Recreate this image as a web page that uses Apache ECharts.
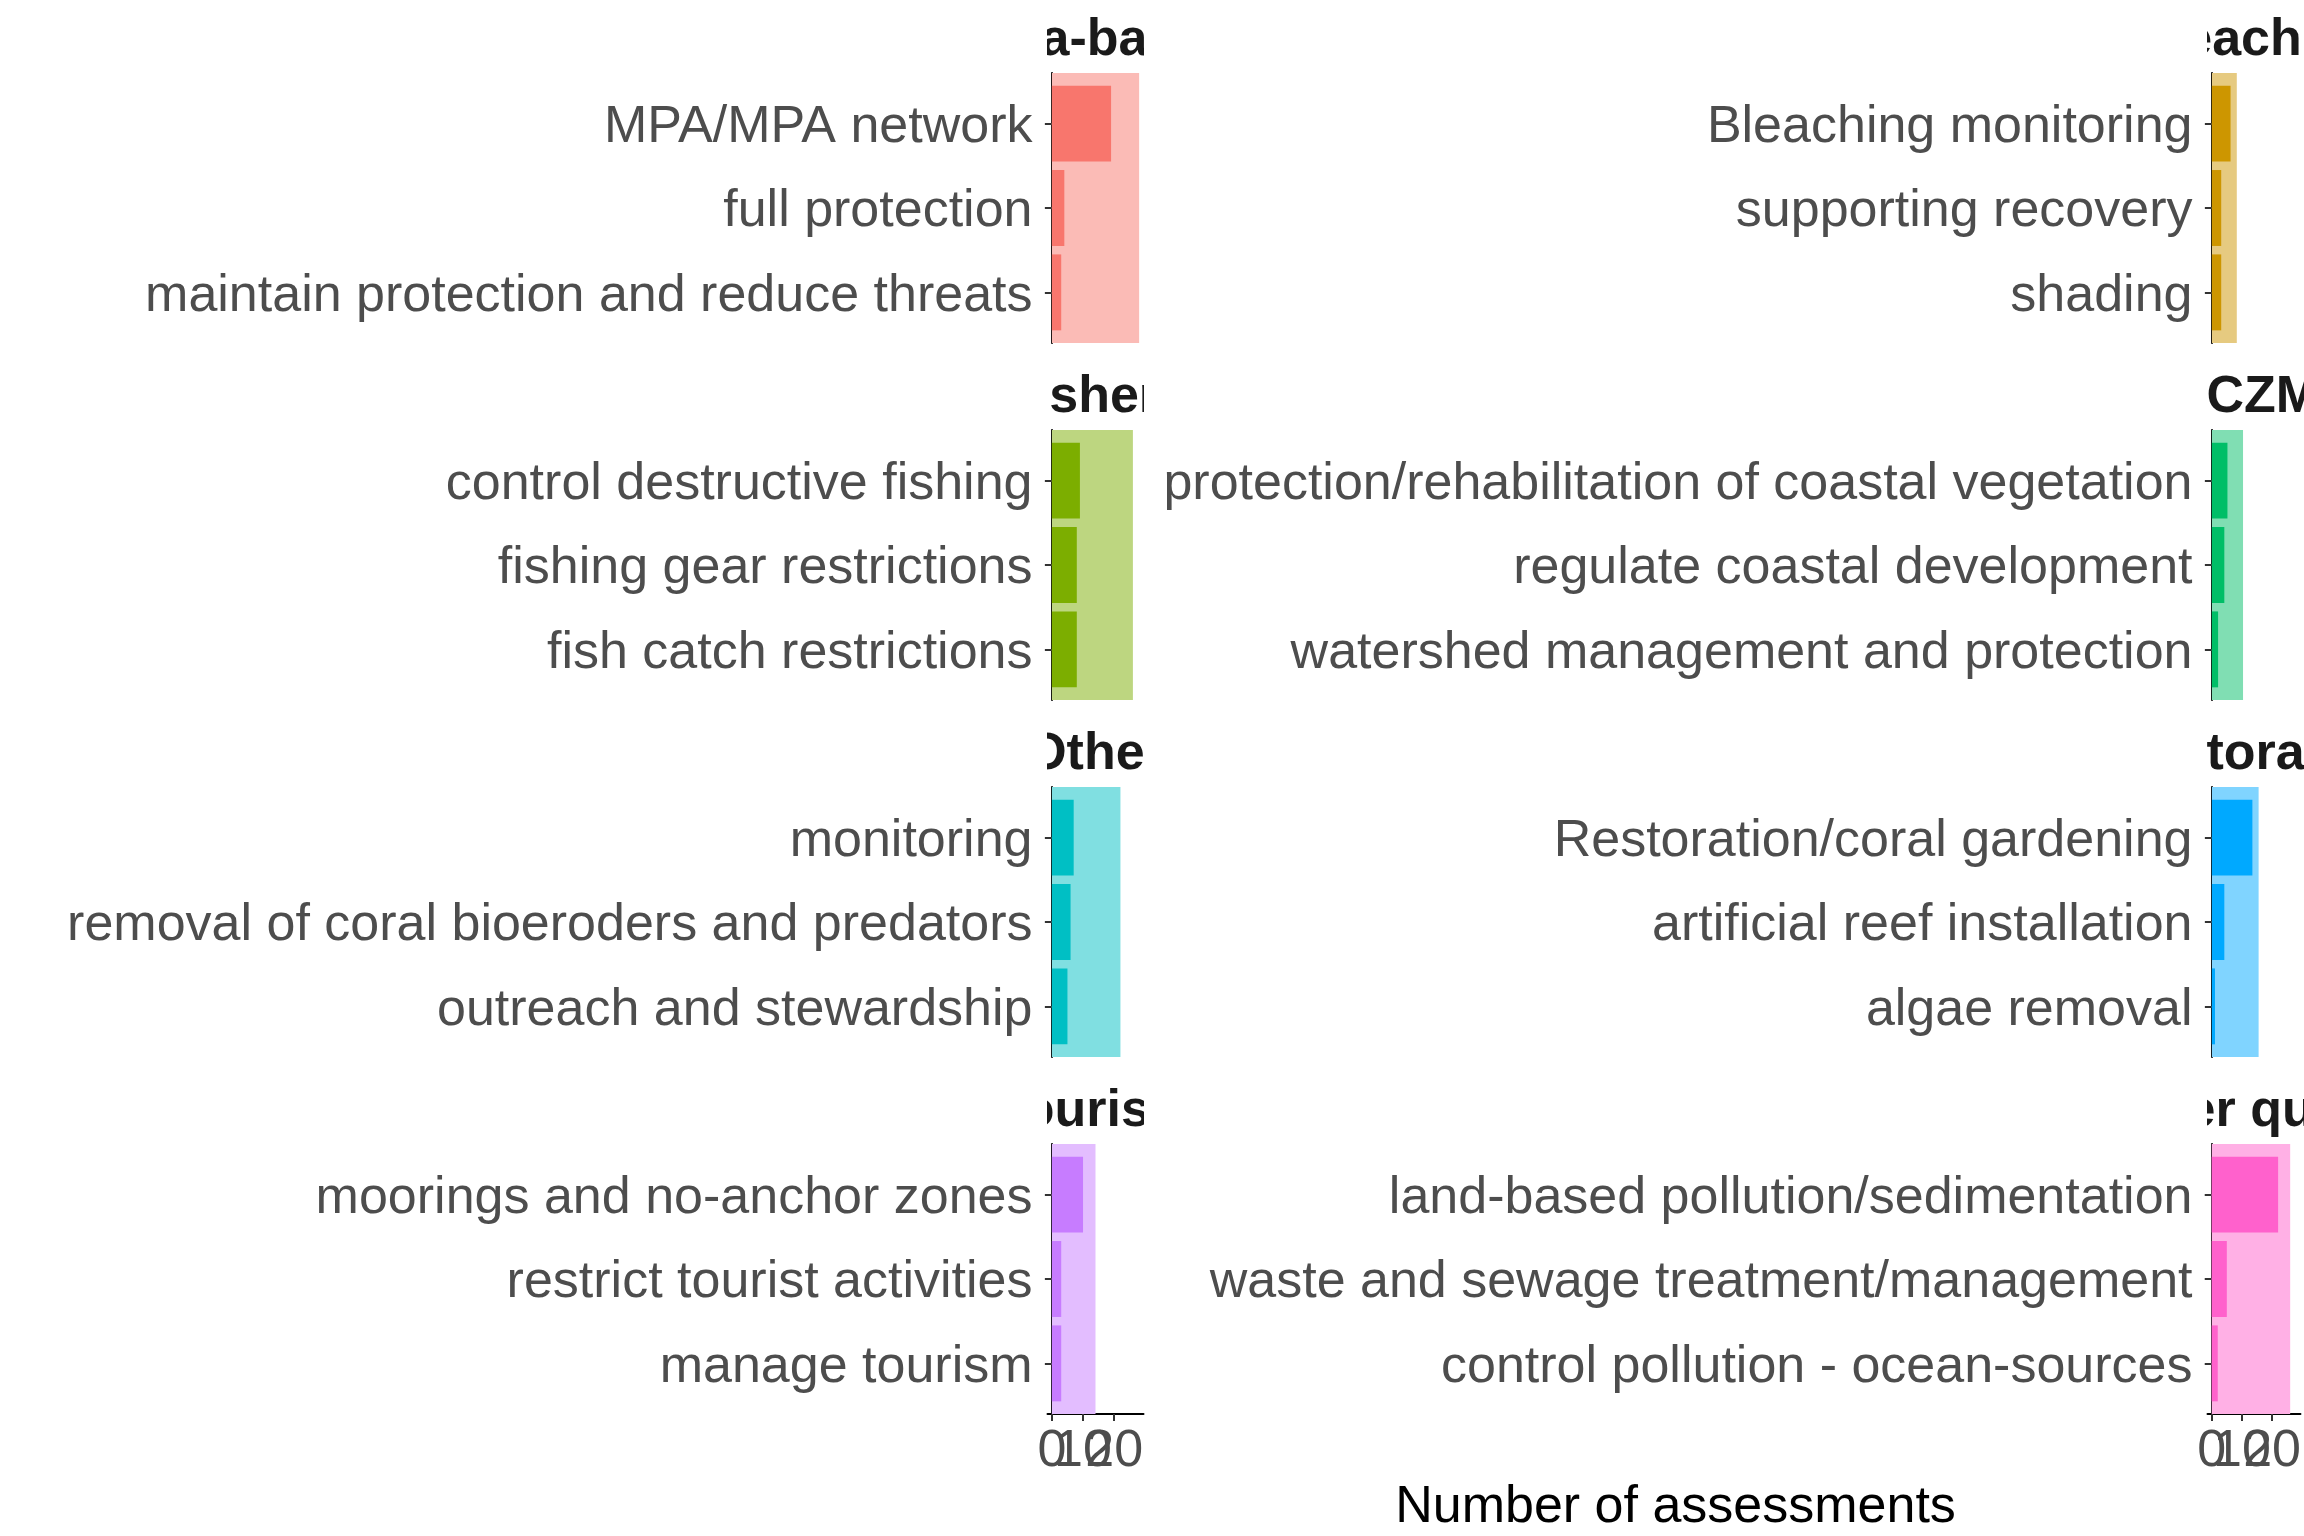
<!DOCTYPE html>
<html>
<head>
<meta charset="utf-8">
<script src="https://cdn.jsdelivr.net/npm/echarts@6/dist/echarts.min.js"></script>
<style>html,body{margin:0;padding:0;background:#fff}#c{width:2304px;height:1536px}</style>
</head>
<body>
<div id="c"></div>
<script>
// ---------------- data ----------------
const groups = ['Area-based', 'Bleaching', 'Fishery', 'ICZM', 'Other', 'Restoration', 'Tourism', 'Water quality'];
const groupTotals = [28, 8, 26, 10, 22, 15, 14, 26];

const actionsAreaBased = ['MPA/MPA network', 'full protection', 'maintain protection and reduce threats'];
const countsAreaBased = [19, 4, 3];
const actionsBleaching = ['Bleaching monitoring', 'supporting recovery', 'shading'];
const countsBleaching = [6, 3, 3];
const actionsFishery = ['control destructive fishing', 'fishing gear restrictions', 'fish catch restrictions'];
const countsFishery = [9, 8, 8];
const actionsICZM = ['protection/rehabilitation of coastal vegetation', 'regulate coastal development', 'watershed management and protection'];
const countsICZM = [5, 4, 2];
const actionsOther = ['monitoring', 'removal of coral bioeroders and predators', 'outreach and stewardship'];
const countsOther = [7, 6, 5];
const actionsRestoration = ['Restoration/coral gardening', 'artificial reef installation', 'algae removal'];
const countsRestoration = [13, 4, 1];
const actionsTourism = ['moorings and no-anchor zones', 'restrict tourist activities', 'manage tourism'];
const countsTourism = [10, 3, 3];
const actionsWaterQuality = ['land-based pollution/sedimentation', 'waste and sewage treatment/management', 'control pollution - ocean-sources'];
const countsWaterQuality = [22, 5, 2];

const xTicks = [0, 10, 20];
const xTitle = 'Number of assessments';

// ---------------- styling / layout ----------------
const colors = ['#F8766D', '#CD9600', '#7CAE00', '#00BE67', '#00BFC4', '#00A9FF', '#C77CFF', '#FF61CC'];
const lightColors = ['#FBBBB6', '#E6CA80', '#BDD680', '#80DEB3', '#80DFE1', '#80D4FF', '#E3BDFF', '#FFB0E5'];
const FONT = '"Liberation Sans", Arial, sans-serif';

const actionsAll = [actionsAreaBased, actionsBleaching, actionsFishery, actionsICZM, actionsOther, actionsRestoration, actionsTourism, actionsWaterQuality];
const countsAll = [countsAreaBased, countsBleaching, countsFishery, countsICZM, countsOther, countsRestoration, countsTourism, countsWaterQuality];

const colLeft = [1047.5, 2207.5];
const panelW = 96, panelH = 270, rowTop0 = 73, rowPitch = 357, stripH = 73;
const xMax = Math.max(...groupTotals);
const xMin = -0.05 * xMax, xMaxExp = 1.05 * xMax;

const grid = [], xAxis = [], yAxis = [], series = [];
const nP = groups.length;
const lastRow = Math.floor((nP - 1) / 2);
const xLabelStyle = { fontSize: 52, color: '#4D4D4D', fontFamily: FONT, margin: 12,
                      hideOverlap: false, showMinLabel: true, showMaxLabel: true };

for (let i = 0; i < nP; i++) {
  const col = i % 2, row = Math.floor(i / 2);
  const top = rowTop0 + row * rowPitch;
  const isBottom = row === lastRow;
  grid.push({ left: colLeft[col], top: top, width: panelW, height: panelH });
  const acts = actionsAll[i];
  xAxis.push({
    type: 'value', gridIndex: i, position: 'bottom', min: xMin, max: xMaxExp, show: isBottom,
    splitLine: { show: false },
    axisLine: { show: true, lineStyle: { color: '#000', width: 2 } },
    axisTick: { show: true, customValues: xTicks, length: 7, lineStyle: { color: '#333', width: 2 } },
    axisLabel: Object.assign({ customValues: [xTicks[0]] }, xLabelStyle)
  });
  yAxis.push({
    type: 'value', gridIndex: i, min: 0.4, max: 3.6, inverse: true,
    splitLine: { show: false },
    axisLine: { show: true, lineStyle: { color: '#000', width: 2 } },
    axisTick: { show: true, customValues: [1, 2, 3], length: 7, lineStyle: { color: '#333', width: 2 } },
    axisLabel: {
      customValues: [1, 2, 3], fontSize: 52, color: '#4D4D4D', fontFamily: FONT, margin: 15,
      verticalAlign: 'top', lineHeight: 8,
      hideOverlap: false, showMinLabel: true, showMaxLabel: true,
      formatter: v => acts[Math.round(v) - 1] || ''
    }
  });
  // background (group total)
  series.push({
    type: 'custom', xAxisIndex: i, yAxisIndex: i, silent: true, z: 1,
    data: [[groupTotals[i], 2]],
    encode: { x: 0, y: 1 },
    renderItem: (params, api) => {
      const cs = params.coordSys;
      const p0 = api.coord([0, 2]);
      const p1 = api.coord([api.value(0), 2]);
      return { type: 'rect', shape: { x: p0[0], y: cs.y, width: p1[0] - p0[0], height: cs.height },
               style: { fill: lightColors[i] } };
    }
  });
  // action bars
  series.push({
    type: 'custom', xAxisIndex: i, yAxisIndex: i, silent: true, z: 2,
    data: countsAll[i].map((v, k) => [v, k + 1]),
    encode: { x: 0, y: 1 },
    renderItem: (params, api) => {
      const v = api.value(0), y = api.value(1);
      const p = api.coord([0, y]);
      const q = api.coord([v, y]);
      const h = Math.abs(api.size([0, 0.9])[1]);
      return { type: 'rect', shape: { x: p[0], y: p[1] - h / 2, width: q[0] - p[0], height: h },
               style: { fill: colors[i] } };
    }
  });
}

// strip grids (clipped titles)
for (let i = 0; i < nP; i++) {
  const col = i % 2, row = Math.floor(i / 2);
  const top = rowTop0 + row * rowPitch;
  const gi = nP + i;
  grid.push({ left: colLeft[col], top: top - stripH, width: panelW, height: stripH });
  xAxis.push({ type: 'value', gridIndex: gi, min: 0, max: 1, show: false });
  yAxis.push({ type: 'value', gridIndex: gi, min: 0, max: 1, show: false });
  series.push({
    type: 'custom', xAxisIndex: gi, yAxisIndex: gi, silent: true, clip: true,
    data: [[0.5, 0.5]],
    encode: { x: 0, y: 1 },
    renderItem: (params, api) => {
      const cs = params.coordSys;
      return {
        type: 'text', x: cs.x + cs.width / 2, y: cs.y + cs.height - 32,
        style: { text: groups[i], fill: '#1A1A1A', fontSize: 52, fontWeight: 'bold', fontFamily: FONT,
                 align: 'center', verticalAlign: 'middle' }
      };
    }
  });
}

// extra label-only x axes on the bottom panels so overlapping tick labels (0, 10, 20) all show
for (let i = 0; i < nP; i++) {
  if (Math.floor(i / 2) !== lastRow) continue;
  for (let t = 1; t < xTicks.length; t++) {
    xAxis.push({
      type: 'value', gridIndex: i, position: 'bottom', offset: 0, min: xMin, max: xMaxExp,
      splitLine: { show: false }, axisLine: { show: false }, axisTick: { show: false },
      axisLabel: Object.assign({ customValues: [xTicks[t]] }, xLabelStyle)
    });
  }
}

const chart = echarts.init(document.getElementById('c'), null, { renderer: 'canvas' });
chart.setOption({
  animation: false,
  backgroundColor: '#fff',
  grid, xAxis, yAxis, series,
  graphic: [{
    type: 'text', x: (colLeft[0] + colLeft[1] + panelW) / 2, y: 1508,
    style: { text: xTitle, fill: '#000', fontSize: 52, fontFamily: FONT, align: 'center', verticalAlign: 'middle' }
  }]
});
</script>
</body>
</html>
